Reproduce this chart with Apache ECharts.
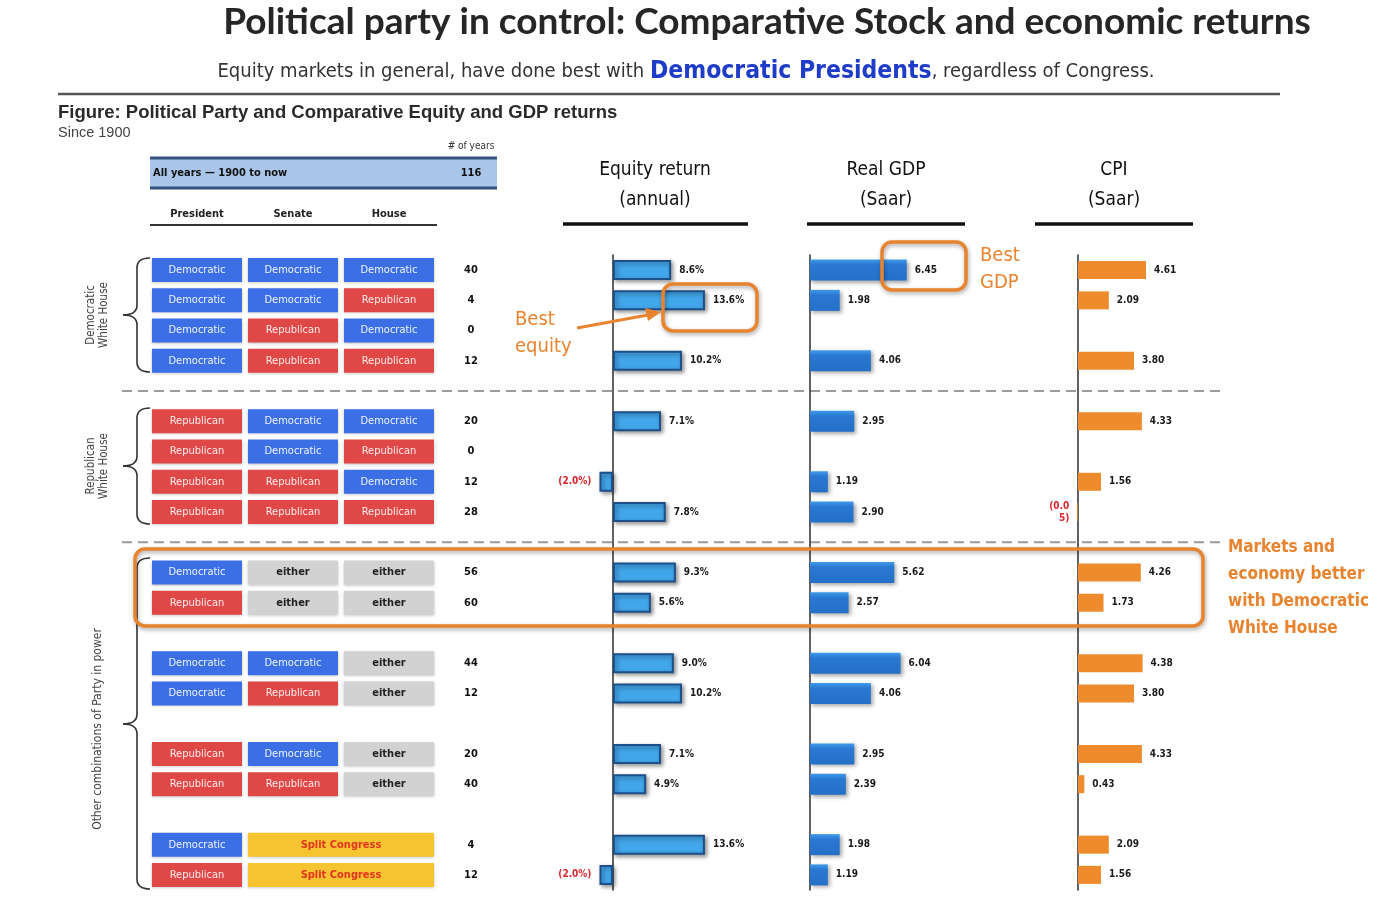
<!DOCTYPE html>
<html><head><meta charset="utf-8">
<script src="https://cdn.jsdelivr.net/npm/echarts@6/dist/echarts.min.js"></script>
<style>html,body{margin:0;padding:0;background:#fff}#c{width:1394px;height:904px}</style>
</head><body><div id="c"></div>
<script>
// ---------- DATA ----------
const slots = Array.from({length: 21}, (_, i) => String(i)); // 21 row slots (gaps = null)
const president = ['Democratic','Democratic','Democratic','Democratic',null,'Republican','Republican','Republican','Republican',null,'Democratic','Republican',null,'Democratic','Democratic',null,'Republican','Republican',null,'Democratic','Republican'];
const senate = ['Democratic','Democratic','Republican','Republican',null,'Democratic','Democratic','Republican','Republican',null,'either','either',null,'Democratic','Republican',null,'Democratic','Republican',null,'Split Congress','Split Congress'];
const house = ['Democratic','Republican','Democratic','Republican',null,'Democratic','Republican','Democratic','Republican',null,'either','either',null,'either','either',null,'either','either',null,'Split Congress','Split Congress'];
const years = [40,4,0,12,null,20,0,12,28,null,56,60,null,44,12,null,20,40,null,4,12];
const equity = [8.6,13.6,null,10.2,null,7.1,null,-2.0,7.8,null,9.3,5.6,null,9.0,10.2,null,7.1,4.9,null,13.6,-2.0];
const gdp = [6.45,1.98,null,4.06,null,2.95,null,1.19,2.90,null,5.62,2.57,null,6.04,4.06,null,2.95,2.39,null,1.98,1.19];
const cpi = [4.61,2.09,null,3.80,null,4.33,null,1.56,-0.05,null,4.26,1.73,null,4.38,3.80,null,4.33,0.43,null,2.09,1.56];
const allYears = 116;

// ---------- STYLE ----------
const NARROW = "'Liberation Sans Narrow','DejaVu Sans Condensed',Roboto,sans-serif";
const SANS = "'Liberation Sans',Arial,sans-serif";
const ORANGE = '#e8842f';
const GT = 255, GH = 635;
const cellFill = {'Democratic':'#3c6fe6','Republican':'#e04848','either':'#d2d2d2','Split Congress':'#f5c430'};
const cellText = {'Democratic':'#eef3ff','Republican':'#ffeaea','either':'#222','Split Congress':'#e2341f'};

// build table cells from the named arrays
const cellData = [], cellKinds = [];
president.forEach((p, i) => {
  if (!p) return;
  cellData.push([0, i, 1]); cellKinds.push(p);
  if (senate[i] === 'Split Congress') { cellData.push([1, i, 2]); cellKinds.push(senate[i]); }
  else { cellData.push([1, i, 1]); cellKinds.push(senate[i]); cellData.push([2, i, 1]); cellKinds.push(house[i]); }
});
const yearData = [], yearText = [];
years.forEach((y, i) => { if (y !== null) { yearData.push([0.5, i]); yearText.push(String(y)); } });

function fmtPct(v){ return v < 0 ? '(' + Math.abs(v).toFixed(1) + '%)' : v.toFixed(1) + '%'; }
function fmtNum(v){ return v < 0 ? '(' + Math.abs(v).toFixed(2).replace('0.05','0.0\n5') + ')' : v.toFixed(2); }

function barItems(arr, fmt){
  return arr.map(v => {
    if (v === null) return null;
    if (v < 0) return {value: v, label: {position: 'left', color: '#d8262b', formatter: fmt(v)}};
    return {value: v, label: {formatter: fmt(v)}};
  });
}

const yAxisBase = (gi, showLine) => ({
  type: 'category', data: slots, inverse: true, gridIndex: gi,
  axisLabel: {show: false}, axisTick: {show: false}, splitLine: {show: false},
  axisLine: {show: showLine, onZero: true, lineStyle: {color: '#3a3a3a', width: 1.6}}
});
const xVal = (gi, min, max) => ({type: 'value', gridIndex: gi, min, max, show: false, splitLine: {show: false}});

const slotY = s => GT + (s + 0.5) * GH / 21;

// ---------- decorations ----------
function brace(xr, xm, xp, y1, y2, ym){
  const st = {stroke: '#333', lineWidth: 1.6, fill: null};
  return [
    {type: 'bezierCurve', shape: {x1: xr, y1: y1, cpx1: xm, cpy1: y1, x2: xm, y2: y1 + 10}, style: st},
    {type: 'line', shape: {x1: xm, y1: y1 + 10, x2: xm, y2: ym - 10}, style: st},
    {type: 'bezierCurve', shape: {x1: xm, y1: ym - 10, cpx1: xm, cpy1: ym, x2: xp, y2: ym}, style: st},
    {type: 'bezierCurve', shape: {x1: xp, y1: ym, cpx1: xm, cpy1: ym, x2: xm, y2: ym + 10}, style: st},
    {type: 'line', shape: {x1: xm, y1: ym + 10, x2: xm, y2: y2 - 10}, style: st},
    {type: 'bezierCurve', shape: {x1: xm, y1: y2 - 10, cpx1: xm, cpy1: y2, x2: xr, y2: y2}, style: st}
  ];
}
function txt(x, y, text, font, fill, align, extra){
  return Object.assign({type: 'text', x, y, style: {text, font, fill, align: align || 'left', verticalAlign: 'middle'}}, extra || {});
}
function rtxt(x, y, text, font, fill){
  return {type: 'text', x, y, rotation: Math.PI / 2, style: {text, font, fill, align: 'center', verticalAlign: 'middle', lineHeight: 13}};
}
function hline(x1, x2, y, color, w, dash){
  return {type: 'line', shape: {x1, y1: y, x2, y2: y}, style: {stroke: color, lineWidth: w, lineDash: dash || null}};
}
function obox(x, y, w, h){
  return {type: 'rect', shape: {x, y, width: w, height: h, r: 10}, z: 50,
    style: {fill: 'none', stroke: ORANGE, lineWidth: 3.5, shadowBlur: 4, shadowColor: 'rgba(0,0,0,0.35)', shadowOffsetX: 1, shadowOffsetY: 2}};
}

const graphics = [
  txt(767, 22, 'Political party in control: Comparative Stock and economic returns', "bold 37px Lato, 'Open Sans', sans-serif", '#262626', 'center'),
  {type: 'text', x: 686, y: 72, style: {
    text: '{a|Equity markets in general, have done best with }{b|Democratic Presidents}{a|, regardless of Congress.}',
    align: 'center', verticalAlign: 'middle',
    rich: {a: {font: '20px ' + NARROW, fill: '#333'}, b: {font: 'bold 24.5px ' + NARROW, fill: '#1e3cc8'}}}},
  hline(58, 1280, 94, '#555', 2.5),
  txt(58, 113, 'Figure: Political Party and Comparative Equity and GDP returns', 'bold 18.5px ' + SANS, '#2a2a2a'),
  txt(58, 133, 'Since 1900', '14.5px ' + SANS, '#444'),
  // header band
  {type: 'rect', shape: {x: 150, y: 158, width: 347, height: 30}, style: {fill: '#a9c6e9'}},
  hline(150, 497, 158, '#34527d', 3),
  hline(150, 497, 188, '#34527d', 3),
  txt(153, 173, 'All years — 1900 to now', 'bold 11px ' + NARROW, '#111'),
  txt(471, 173, String(allYears), 'bold 11px ' + NARROW, '#111', 'center'),
  txt(471, 146, '# of years', '10px ' + NARROW, '#333', 'center'),
  txt(197, 214, 'President', 'bold 11px ' + NARROW, '#222', 'center'),
  txt(293, 214, 'Senate', 'bold 11px ' + NARROW, '#222', 'center'),
  txt(389, 214, 'House', 'bold 11px ' + NARROW, '#222', 'center'),
  hline(150, 437, 225, '#333', 2),
  // metric headers
  txt(655, 170, 'Equity return', '19px ' + NARROW, '#111', 'center'),
  txt(655, 200, '(annual)', '19px ' + NARROW, '#111', 'center'),
  hline(563, 748, 224, '#111', 3.5),
  txt(886, 170, 'Real GDP', '19px ' + NARROW, '#111', 'center'),
  txt(886, 200, '(Saar)', '19px ' + NARROW, '#111', 'center'),
  hline(807, 965, 224, '#111', 3.5),
  txt(1114, 170, 'CPI', '19px ' + NARROW, '#111', 'center'),
  txt(1114, 200, '(Saar)', '19px ' + NARROW, '#111', 'center'),
  hline(1035, 1193, 224, '#111', 3.5),
  // separators
  hline(122, 1220, slotY(4), '#9a9a9a', 2, [10, 6]),
  hline(122, 1220, slotY(9), '#9a9a9a', 2, [10, 6]),
  // group labels
  rtxt(98, 315, 'Democratic\nWhite House', '11.5px ' + NARROW, '#444'),
  rtxt(98, 466, 'Republican\nWhite House', '11.5px ' + NARROW, '#444'),
  rtxt(98, 729, 'Other combinations of Party in power', '12px ' + NARROW, '#444'),
  ...brace(150, 137, 123, 258, 372, 315),
  ...brace(150, 137, 123, 408, 524, 466),
  ...brace(150, 137, 123, 558, 889, 724),
  // annotations
  obox(663, 284, 94, 47),
  obox(882, 242, 84, 48),
  obox(135, 549, 1068, 77),
  txt(515, 320, 'Best', '20px ' + NARROW, ORANGE),
  txt(515, 347, 'equity', '20px ' + NARROW, ORANGE),
  {type: 'line', shape: {x1: 577, y1: 328, x2: 648, y2: 315}, style: {stroke: ORANGE, lineWidth: 3}, z: 50},
  {type: 'polygon', shape: {points: [[661, 312], [645, 308], [648, 321]]}, style: {fill: ORANGE}, z: 50},
  txt(980, 256, 'Best', '20px ' + NARROW, ORANGE),
  txt(980, 283, 'GDP', '20px ' + NARROW, ORANGE),
  txt(1228, 548, 'Markets and', 'bold 17px ' + NARROW, ORANGE),
  txt(1228, 575, 'economy better', 'bold 17px ' + NARROW, ORANGE),
  txt(1228, 602, 'with Democratic', 'bold 17px ' + NARROW, ORANGE),
  txt(1228, 629, 'White House', 'bold 17px ' + NARROW, ORANGE)
];

const labelBase = {show: true, position: 'right', distance: 8, color: '#1a1a1a', fontFamily: NARROW, fontWeight: 'bold', fontSize: 10, lineHeight: 12};

const option = {
  animation: false,
  backgroundColor: '#fff',
  grid: [
    {left: 149, width: 288, top: GT, height: GH},
    {left: 455, width: 32, top: GT, height: GH},
    {left: 579.2, width: 169, top: GT, height: GH},
    {left: 810, width: 150, top: GT, height: GH},
    {left: 1063.25, width: 118, top: GT, height: GH}
  ],
  xAxis: [xVal(0, 0, 3), xVal(1, 0, 1), xVal(2, -5, 20), xVal(3, 0, 10), xVal(4, -1, 7)],
  yAxis: [yAxisBase(0, false), yAxisBase(1, false), yAxisBase(2, true), yAxisBase(3, true), yAxisBase(4, true)],
  series: [
    {
      type: 'custom', xAxisIndex: 0, yAxisIndex: 0, data: cellData,
      renderItem(params, api){
        const p = api.coord([api.value(0), api.value(1)]);
        const sz = api.size([api.value(2), 1]);
        const k = cellKinds[params.dataIndex];
        const h = 24;
        return {
          type: 'rect',
          shape: {x: p[0] + 3, y: p[1] - h / 2, width: sz[0] - 6, height: h},
          style: {fill: cellFill[k], shadowBlur: 3, shadowColor: 'rgba(0,0,0,0.25)', shadowOffsetY: 1},
          textContent: {style: {text: k, fill: cellText[k], font: (k === 'either' || k === 'Split Congress' ? 'bold ' : '') + '11px ' + NARROW}},
          textConfig: {position: 'inside'}
        };
      }
    },
    {
      type: 'custom', xAxisIndex: 1, yAxisIndex: 1, data: yearData,
      renderItem(params, api){
        const p = api.coord([api.value(0), api.value(1)]);
        return {type: 'text', x: p[0], y: p[1], style: {text: yearText[params.dataIndex], font: 'bold 11px ' + NARROW, fill: '#111', align: 'center', verticalAlign: 'middle'}};
      }
    },
    {
      type: 'bar', xAxisIndex: 2, yAxisIndex: 2, data: barItems(equity, fmtPct), barWidth: 20,
      itemStyle: {color: '#42a6ea', borderColor: '#1d4f88', borderWidth: 2, shadowBlur: 4, shadowColor: 'rgba(0,0,0,0.4)', shadowOffsetX: 2, shadowOffsetY: 2},
      label: labelBase
    },
    {
      type: 'bar', xAxisIndex: 3, yAxisIndex: 3, data: barItems(gdp, fmtNum), barWidth: 21,
      itemStyle: {color: new echarts.graphic.LinearGradient(0, 0, 0, 1, [{offset: 0, color: '#3f9be8'}, {offset: 0.25, color: '#2a78d2'}, {offset: 1, color: '#2470c8'}]), shadowBlur: 4, shadowColor: 'rgba(0,0,0,0.35)', shadowOffsetX: 2, shadowOffsetY: 2},
      label: labelBase
    },
    {
      type: 'bar', xAxisIndex: 4, yAxisIndex: 4, data: barItems(cpi, fmtNum), barWidth: 18,
      itemStyle: {color: '#ee8b2c'},
      label: labelBase
    }
  ],
  graphic: {elements: graphics}
};

const chart = echarts.init(document.getElementById('c'), null, {renderer: 'canvas'});
chart.setOption(option);
</script>
</body></html>
